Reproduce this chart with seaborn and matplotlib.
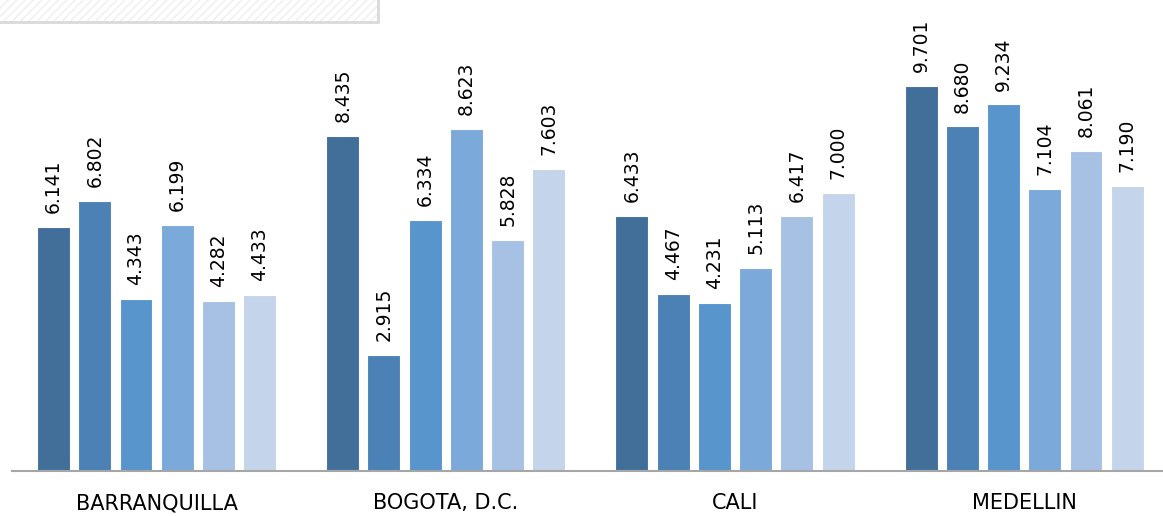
import numpy as np
import pandas as pd
import seaborn as sns
import matplotlib
matplotlib.use('Agg')
import matplotlib.pyplot as plt
from matplotlib.patches import Rectangle

# data
ciudades = ['BARRANQUILLA', 'BOGOTA, D.C.', 'CALI', 'MEDELLIN']
series = ['Serie 1', 'Serie 2', 'Serie 3', 'Serie 4', 'Serie 5', 'Serie 6']
serie1 = [6.141, 8.435, 6.433, 9.701]
serie2 = [6.802, 2.915, 4.467, 8.680]
serie3 = [4.343, 6.334, 4.231, 9.234]
serie4 = [6.199, 8.623, 5.113, 7.104]
serie5 = [4.282, 5.828, 6.417, 8.061]
serie6 = [4.433, 7.603, 7.000, 7.190]
colores = ['#426f9a', '#4c81b5', '#5895cc', '#7ba9da', '#a6c1e4', '#c4d4ea']

valores = [serie1, serie2, serie3, serie4, serie5, serie6]
rows = []
for s, vals in zip(series, valores):
    for c, v in zip(ciudades, vals):
        rows.append({'ciudad': c, 'serie': s, 'valor': v})
df = pd.DataFrame(rows)

sns.set_style('white')
plt.rcParams['font.family'] = ['DejaVu Sans']

fig = plt.figure(figsize=(11.63, 5.16), dpi=100)
ax = fig.add_axes([12 / 1163, 45 / 516, 1 - 12 / 1163, (471 - 20) / 516])

sns.barplot(data=df, x='ciudad', y='valor', hue='serie', palette=colores,
            saturation=1, width=0.855, gap=0.2, edgecolor='white',
            linewidth=0.8, legend=False, ax=ax)

for cont in ax.containers:
    ax.bar_label(cont, fmt='%.3f', rotation=90, padding=10, fontsize=13.5,
                 color='black')

ax.set_xlim(-0.5, 3.48)
ax.set_ylim(0, 451 / 39.7)
ax.set_xlabel('')
ax.set_ylabel('')
ax.set_yticks([])
ax.tick_params(axis='x', length=0, pad=16, labelsize=15, labelcolor='black')
for side in ['top', 'left', 'right']:
    ax.spines[side].set_visible(False)
ax.spines['bottom'].set_color('#a6a6a6')
ax.spines['bottom'].set_linewidth(1.5)

# hatched box in the top left corner
fig.patches.append(Rectangle((0, 1 - 22 / 516), 378 / 1163, 22 / 516,
                             transform=fig.transFigure, facecolor='white',
                             edgecolor='#efefef', hatch='////', lw=0))
fig.patches.append(Rectangle((-0.01, 1 - 22 / 516), 378 / 1163 + 0.01, 22 / 516 + 0.01,
                             transform=fig.transFigure, fill=False,
                             edgecolor='#d9d9d9', lw=2))

fig.savefig('out.png', dpi=100)
